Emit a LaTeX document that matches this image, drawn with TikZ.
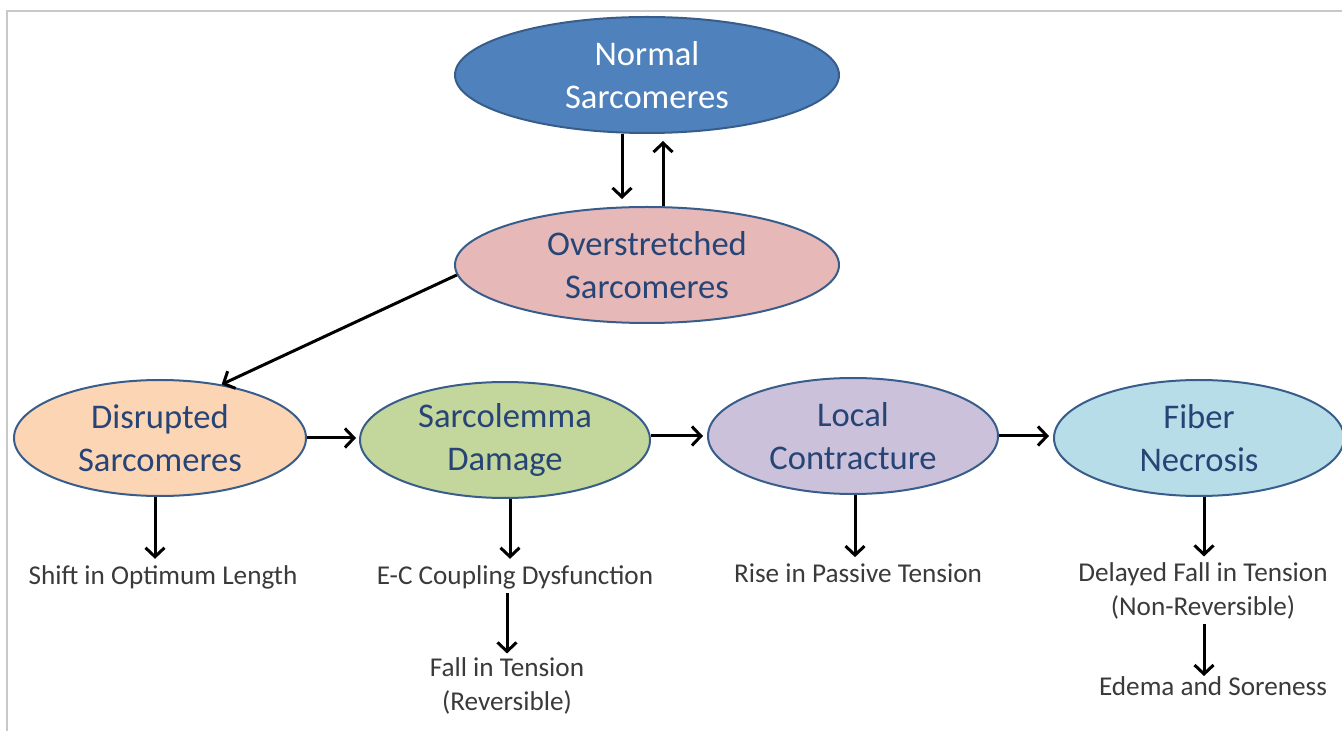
\documentclass[tikz,border=0pt]{standalone}
\usepackage{fontspec}
\setmainfont{Carlito}
\usetikzlibrary{shapes.geometric,arrows.meta,calc}
\definecolor{rim}{RGB}{56,93,138}
\definecolor{etext}{RGB}{38,68,118}
\definecolor{ltext}{RGB}{58,58,58}
\definecolor{cnorm}{RGB}{79,129,189}
\definecolor{cover}{RGB}{230,185,184}
\definecolor{cdis}{RGB}{252,213,181}
\definecolor{csar}{RGB}{195,214,155}
\definecolor{cloc}{RGB}{204,193,218}
\definecolor{cfib}{RGB}{183,222,232}
\definecolor{frame}{RGB}{200,200,200}
\tikzset{
  blob/.style={ellipse, draw=rim, line width=1pt, minimum width=290pt/2, minimum height=116pt/2, inner sep=0pt, align=center, text=etext, font=\fontsize{17.3}{21.5}\selectfont},
  lbl/.style={align=center, text=ltext, inner sep=2pt, font=\fontsize{13.6}{16.8}\selectfont},
  arr/.style={line width=1.5pt, -{Straight Barb[length=4.5pt,width=9.5pt]}},
}
\begin{document}
\begin{tikzpicture}[x=0.5pt,y=-0.5pt]
\useasboundingbox (0,0) rectangle (1342,731);
\draw[frame, line width=1pt] (7,731) -- (7,11) -- (1342,11);

\node[blob, fill=cnorm, text=white, minimum width=384pt/2] (norm) at (647,75) {Normal\\Sarcomeres};
\node[blob, fill=cover, minimum width=384pt/2] (over) at (647,265) {Overstretched\\Sarcomeres};
\node[blob, fill=cdis, minimum width=292pt/2] (dis) at (160,438) {Disrupted\\Sarcomeres};
\node[blob, fill=csar] (sar) at (505,440) {Sarcolemma\\Damage};
\node[blob, fill=cloc] (loc) at (853,436) {Local\\Contracture};
\node[blob, fill=cfib] (fib) at (1199,438) {Fiber\\Necrosis};

\node[lbl] (shift) at (163,577) {Shift in Optimum Length};
\node[lbl] (ec) at (515,577) {E-C Coupling Dysfunction};
\node[lbl] (fall) at (507,686) {Fall in Tension\\(Reversible)};
\node[lbl] (rise) at (858,573) {Rise in Passive Tension};
\node[lbl] (del) at (1203,591) {Delayed Fall in Tension\\(Non-Reversible)};
\node[lbl] (edema) at (1213,686) {Edema and Soreness};

\draw[arr] ($(norm.south)+(-25,0)$) -- ($(over.north)+(-25,-7)$);
\draw[arr] ($(over.north)+(16,0)$) -- ($(norm.south)+(16,7)$);
\draw[arr] (over.183) -- (dis.41);
\draw[arr] (dis.east) -- ($(dis.east -| sar.west)+(-3,0)$);
\draw[arr] (sar.east |- loc.east) -- ($(loc.west)+(-4,0)$);
\draw[arr] (loc.east) -- ($(loc.east -| fib.west)+(-4,0)$);
\draw[arr] ($(dis.south)+(-5,0)$) -- ($(dis.south |- shift.north)+(-5,-2)$);
\draw[arr] ($(sar.south)+(5,0)$) -- ($(sar.south |- ec.north)+(5,-2)$);
\draw[arr] (fall.north |- ec.south) -- (fall.north);
\draw[arr] ($(loc.south)+(2,0)$) -- ($(loc.south |- rise.north)+(2,-2)$);
\draw[arr] ($(fib.south)+(5,0)$) -- ($(fib.south |- del.north)+(5,-2)$);
\draw[arr] ($(del.south)+(1,0)$) -- ($(del.south |- edema.north)+(1,4)$);
\end{tikzpicture}
\end{document}
